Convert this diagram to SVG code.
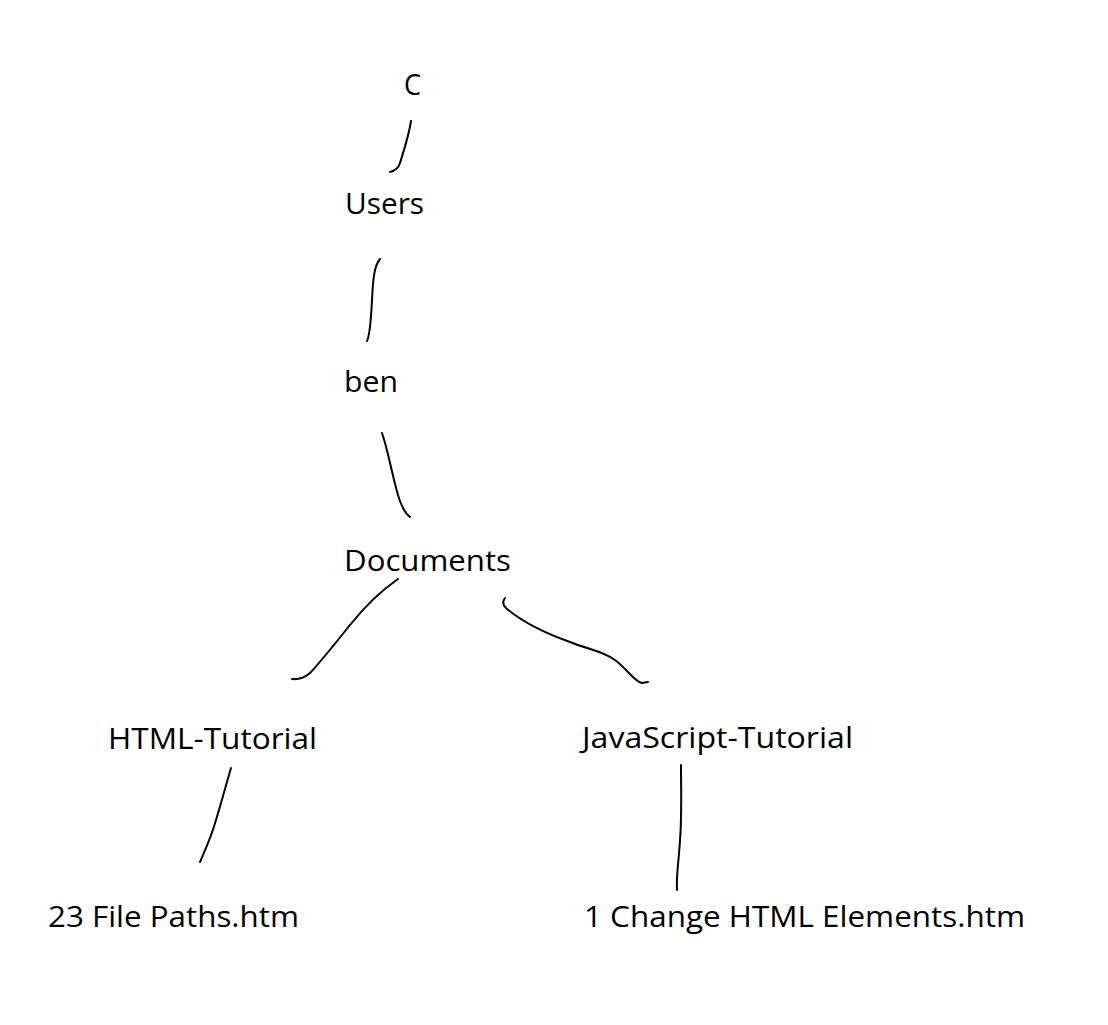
<svg xmlns="http://www.w3.org/2000/svg" width="1108" height="1025" viewBox="0 0 1108 1025">
<style>
.lbl{font-family:"Open Sans","Noto Sans","Liberation Sans",sans-serif;font-size:29px;fill:#000}
.edge{fill:none;stroke:#000;stroke-width:2;stroke-linecap:round;stroke-linejoin:round}
</style>
<rect width="1108" height="1025" fill="#fff"/>
<g id="connectors">
<path class="edge" d="M411,121 C409,135 404,150 400,163 Q398,170 390,172"/>
<path class="edge" d="M380,259 C374,266 373,280 372,300 C371,320 370,335 367,341"/>
<path class="edge" d="M382,433 C388,450 392,475 398,495 Q403,512 410,517"/>
<path class="edge" d="M398,579 C385,588 370,600 350,625 C330,650 318,665 310,673 Q302,680 292,679"/>
<path class="edge" d="M505,598 Q501,603 506,608 C520,620 545,633 570,642 C590,650 603,651 615,660 C628,670 635,682 642,683 L648,682"/>
<path class="edge" d="M231,768 C226,785 222,800 216,820 C211,838 205,850 200,862"/>
<path class="edge" d="M681,765 C681,790 682,815 680,840 C679,860 676,875 677,890"/>
</g>
<g id="node-c"><text class="lbl" x="404" y="95" textLength="17" lengthAdjust="spacingAndGlyphs">C</text></g>
<g id="node-users"><text class="lbl" x="345" y="214" textLength="79" lengthAdjust="spacingAndGlyphs">Users</text></g>
<g id="node-ben"><text class="lbl" x="344" y="392" textLength="54" lengthAdjust="spacingAndGlyphs">ben</text></g>
<g id="node-documents"><text class="lbl" x="344" y="571" textLength="167" lengthAdjust="spacingAndGlyphs">Documents</text></g>
<g id="node-html-tutorial"><text class="lbl" x="108" y="749" textLength="209" lengthAdjust="spacingAndGlyphs">HTML-Tutorial</text></g>
<g id="node-js-tutorial"><text class="lbl" x="582" y="748" textLength="271" lengthAdjust="spacingAndGlyphs">JavaScript-Tutorial</text></g>
<g id="node-file-paths"><text class="lbl" x="48" y="927" textLength="251" lengthAdjust="spacingAndGlyphs">23 File Paths.htm</text></g>
<g id="node-change-html"><text class="lbl" x="584" y="927" textLength="441" lengthAdjust="spacingAndGlyphs">1 Change HTML Elements.htm</text></g>
</svg>
